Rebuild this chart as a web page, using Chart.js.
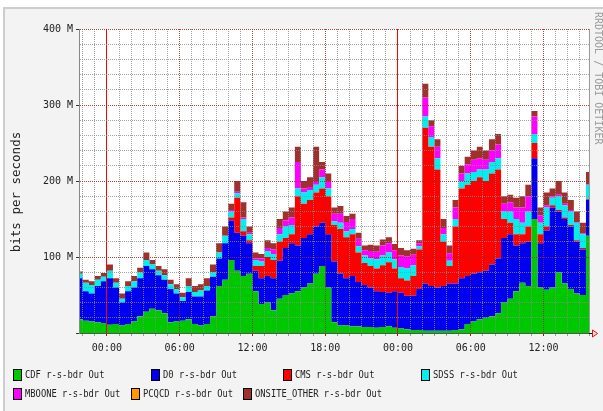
<!DOCTYPE html>
<html>
<head>
<meta charset="utf-8">
<script src="https://cdn.jsdelivr.net/npm/chart.js@4.4.0/dist/chart.umd.min.js"></script>
<style>
html, body { margin: 0; padding: 0; background: #fff; }
#frame { position: absolute; left: 3px; top: 7px; width: 600px; height: 404px; background: #f3f3f3; border-left: 2px solid #cdcdcd; border-top: 2px solid #cdcdcd; }
#myChart { position: absolute; left: 0; top: 0; }
#ylabel { position: absolute; left: 15px; top: 192px; transform: translate(-50%, -50%) rotate(-90deg); font: 12.5px "DejaVu Sans Mono", monospace; color: #222; white-space: nowrap; }
#credit { position: absolute; left: 593px; top: 12px; writing-mode: vertical-rl; font: 10px "DejaVu Sans Mono", monospace; color: #9a9a9a; white-space: nowrap; }
.item { position: absolute; height: 12px; }
.box { position: absolute; left: 0; top: 0; width: 7px; height: 10px; border: 1px solid #000; }
.txt { position: absolute; left: 12px; top: -1px; font: 11px "DejaVu Sans Mono", monospace; color: #222; white-space: nowrap; transform: scaleX(0.8); transform-origin: left center; }
</style>
</head>
<body>
<div id="frame"></div>
<canvas id="myChart" width="603" height="411"></canvas>
<div id="ylabel">bits per seconds</div>
<div id="credit">RRDTOOL / TOBI OETIKER</div>
<div id="legend"></div>
<script>
// hours relative to the first midnight, one sample every 30 min
const hours = Array.from({ length: 85 }, (_, i) => -2.25 + i * 0.5);

const seriesNames = ['CDF r-s-bdr Out', 'D0 r-s-bdr Out', 'CMS r-s-bdr Out', 'SDSS r-s-bdr Out',
    'MBOONE r-s-bdr Out', 'PCQCD r-s-bdr Out', 'ONSITE_OTHER r-s-bdr Out'];
const seriesColors = ['#00c800', '#0000ee', '#ff0000', '#00f0f0', '#ff00ff', '#ff9900', '#a0302c'];

// values in M bits/s
const cdf = [18, 16, 15, 14, 13, 11, 12, 10, 12, 15, 22, 28, 32, 30, 26, 14, 15, 16, 18, 12,
    10, 12, 22, 62, 70, 96, 82, 75, 78, 55, 38, 40, 30, 45, 50, 52, 55, 60, 65, 78,
    88, 60, 14, 10, 10, 9, 9, 8, 8, 7, 8, 9, 7, 6, 5, 4, 4, 3, 3, 3,
    3, 3, 4, 5, 12, 15, 18, 20, 22, 26, 40, 45, 55, 66, 62, 150, 60, 57, 60, 80,
    65, 58, 52, 50, 128];
const d0 = [54, 39, 37, 48, 55, 61, 48, 30, 43, 45, 50, 60, 52, 46, 44, 44, 37, 26, 36, 36,
    38, 44, 52, 36, 48, 52, 50, 53, 40, 27, 34, 35, 42, 50, 62, 66, 60, 65, 65, 62,
    57, 70, 80, 68, 62, 66, 58, 55, 52, 48, 46, 44, 48, 47, 44, 45, 54, 62, 59, 57,
    59, 62, 61, 67, 63, 63, 62, 62, 68, 72, 85, 85, 60, 52, 58, 80, 58, 78, 105, 80,
    85, 82, 68, 60, 47];
const cms = [0, 0, 0, 0, 0, 0, 0, 0, 0, 0, 0, 0, 0, 0, 0, 0, 0, 0, 0, 0,
    0, 0, 0, 0, 0, 4, 46, 6, 4, 6, 16, 25, 24, 25, 13, 12, 65, 45, 45, 45,
    45, 50, 48, 59, 54, 55, 39, 29, 28, 30, 35, 40, 30, 19, 20, 26, 52, 205, 183, 155,
    58, 23, 75, 118, 120, 122, 125, 118, 120, 117, 25, 15, 15, 12, 20, 20, 12, 5, 3, 2,
    2, 2, 2, 2, 1];
const sdss = [6, 11, 11, 8, 6, 10, 6, 5, 7, 8, 8, 8, 6, 6, 6, 6, 6, 5, 8, 6,
    8, 6, 6, 8, 10, 8, 6, 16, 8, 8, 6, 8, 8, 10, 15, 12, 10, 15, 13, 10,
    15, 10, 5, 8, 8, 7, 8, 10, 10, 12, 13, 13, 12, 15, 16, 14, 4, 15, 13, 15,
    10, 7, 10, 10, 15, 12, 10, 15, 15, 15, 10, 15, 20, 15, 20, 12, 15, 25, 10, 18,
    16, 18, 23, 18, 19];
const mboone = [0, 0, 0, 0, 0, 0, 0, 0, 0, 0, 0, 0, 0, 0, 0, 0, 0, 0, 0, 0,
    0, 0, 0, 0, 0, 2, 2, 2, 2, 2, 4, 4, 6, 8, 8, 10, 35, 5, 4, 5,
    10, 10, 10, 12, 12, 13, 10, 7, 10, 10, 13, 12, 12, 15, 16, 14, 4, 25, 14, 15,
    8, 10, 15, 10, 12, 16, 15, 13, 15, 18, 10, 12, 15, 20, 20, 23, 10, 3, 2, 2,
    2, 2, 1, 1, 1];
const pcqcd = [0, 0, 0, 0, 0, 0, 0, 0, 0, 0, 0, 0, 0, 0, 0, 0, 0, 0, 0, 0,
    0, 0, 0, 0, 0, 0, 0, 0, 0, 0, 0, 0, 0, 0, 0, 0, 0, 0, 0, 0,
    0, 0, 0, 0, 0, 0, 0, 0, 0, 0, 0, 0, 0, 0, 0, 0, 0, 0, 0, 0,
    0, 0, 0, 0, 0, 0, 0, 0, 0, 0, 0, 0, 0, 0, 0, 0, 0, 0, 0, 0,
    0, 0, 0, 0, 0];
const onsiteOther = [3, 4, 5, 5, 5, 8, 6, 7, 6, 7, 6, 10, 6, 6, 8, 6, 6, 6, 10, 8,
    8, 10, 10, 12, 12, 8, 14, 20, 8, 8, 6, 10, 8, 12, 12, 13, 20, 10, 13, 45,
    10, 10, 8, 10, 8, 7, 8, 6, 8, 8, 8, 8, 8, 10, 8, 8, 4, 18, 8, 10,
    12, 10, 10, 10, 10, 12, 15, 12, 15, 14, 10, 10, 13, 15, 15, 7, 10, 17, 10, 18,
    15, 13, 14, 14, 16];

const timeLabels = ['00:00', '06:00', '12:00', '18:00'];
const yTickLabels = ['', '100 M', '200 M', '300 M', '400 M'];

const X_MIN = -2.3, X_MAX = 39.75;
const allSeries = [cdf, d0, cms, sdss, mboone, pcqcd, onsiteOther];

const datasets = allSeries.map(function (vals, i) {
    return {
        label: seriesNames[i],
        data: hours.map(function (h, j) { return { x: h, y: vals[j] }; }),
        backgroundColor: seriesColors[i],
        borderColor: seriesColors[i],
        borderWidth: 0,
        pointRadius: 0,
        stepped: 'middle',
        fill: i === 0 ? 'origin' : '-1'
    };
});

function xDash(ctx) {
    if (!ctx.tick) return [];
    const v = ctx.tick.value;
    if (v === X_MAX || v % 24 === 0) return [];
    return [1, 1];
}
function xColor(ctx) {
    const v = ctx.tick.value;
    if (v === X_MAX) return '#999999';
    if (v % 24 === 0) return '#ff0000';
    if (v % 6 === 0) return 'rgba(150,40,40,0.85)';
    return 'rgba(140,140,140,0.8)';
}
function yDash(ctx) {
    return [1, 1];
}
function yColor(ctx) {
    const v = ctx.tick.value;
    if (v === 0) return 'rgba(0,0,0,0)';
    if (v % 100 === 0) return 'rgba(150,40,40,0.85)';
    return 'rgba(140,140,140,0.8)';
}

const plotBg = {
    id: 'plotBg',
    beforeDraw: function (chart) {
        const a = chart.chartArea, c = chart.ctx;
        c.save();
        c.fillStyle = '#ffffff';
        c.fillRect(a.left, a.top, a.right - a.left, a.bottom - a.top);
        c.restore();
    },
    afterDraw: function (chart) {
        const a = chart.chartArea, c = chart.ctx;
        c.save();
        c.strokeStyle = '#000';
        c.beginPath();
        c.moveTo(a.right, a.bottom + 0.5);
        c.lineTo(a.right + 3, a.bottom + 0.5);
        c.stroke();
        c.strokeStyle = '#ff0000';
        c.beginPath();
        c.moveTo(a.right + 3.5, a.bottom - 3);
        c.lineTo(a.right + 8.5, a.bottom + 0.5);
        c.lineTo(a.right + 3.5, a.bottom + 4);
        c.closePath();
        c.stroke();
        c.restore();
    }
};

const ctx = document.getElementById('myChart').getContext('2d');
const myChart = new Chart(ctx, {
    type: 'line',
    data: { datasets: datasets },
    plugins: [plotBg],
    options: {
        responsive: false,
        animation: false,
        devicePixelRatio: 1,
        layout: { padding: { left: 0, top: 29, right: 14, bottom: 48 } },
        plugins: { legend: { display: false }, tooltip: { enabled: false } },
        elements: { line: { tension: 0 } },
        scales: {
            x: {
                type: 'linear',
                min: X_MIN,
                max: X_MAX,
                afterBuildTicks: function (s) {
                    const t = [];
                    for (let h = -2; h <= 39; h++) t.push({ value: h });
                    t.push({ value: X_MAX });
                    s.ticks = t;
                },
                afterFit: function (s) { s.height = 30; },
                grid: { z: 1, color: xColor, borderDash: xDash, tickLength: 3,
                    tickColor: function (c) { return c.tick.value % 6 === 0 ? '#d00000' : '#999'; } },
                border: { z: 1, color: '#555', dash: xDash },
                ticks: {
                    autoSkip: false, maxRotation: 0, padding: 6, color: '#222',
                    font: { family: 'DejaVu Sans Mono', size: 10 },
                    callback: function (v) {
                        if (v % 6 !== 0) return '';
                        return timeLabels[(((v / 6) % 4) + 4) % 4];
                    }
                }
            },
            y: {
                stacked: true,
                min: 0,
                max: 400,
                afterBuildTicks: function (s) {
                    const t = [];
                    for (let v = 0; v <= 400; v += 20) t.push({ value: v });
                    s.ticks = t;
                },
                afterFit: function (s) { s.width = 79; },
                grid: { z: 1, color: yColor, borderDash: yDash, tickLength: 3,
                    tickColor: function (c) { return c.tick.value % 100 === 0 ? '#333' : 'rgba(0,0,0,0)'; } },
                border: { z: 1, color: '#888', dash: function (c) { return c.tick ? [1, 1] : []; } },
                ticks: {
                    autoSkip: false, padding: 3, color: '#222',
                    font: { family: 'DejaVu Sans Mono', size: 10 },
                    callback: function (v) {
                        return v % 100 === 0 ? yTickLabels[v / 100] : '';
                    }
                }
            }
        }
    }
});

// legend like the rrd picture
const legendPos = [[13, 369], [151, 369], [283, 369], [421, 369], [13, 388], [131, 388], [243, 388]];
const legend = document.getElementById('legend');
seriesNames.forEach(function (name, i) {
    const item = document.createElement('div');
    item.className = 'item';
    item.style.left = legendPos[i][0] + 'px';
    item.style.top = legendPos[i][1] + 'px';
    item.innerHTML = '<div class="box" style="background:' + seriesColors[i] + '"></div><div class="txt">' + name + '</div>';
    legend.appendChild(item);
});
</script>
</body>
</html>
